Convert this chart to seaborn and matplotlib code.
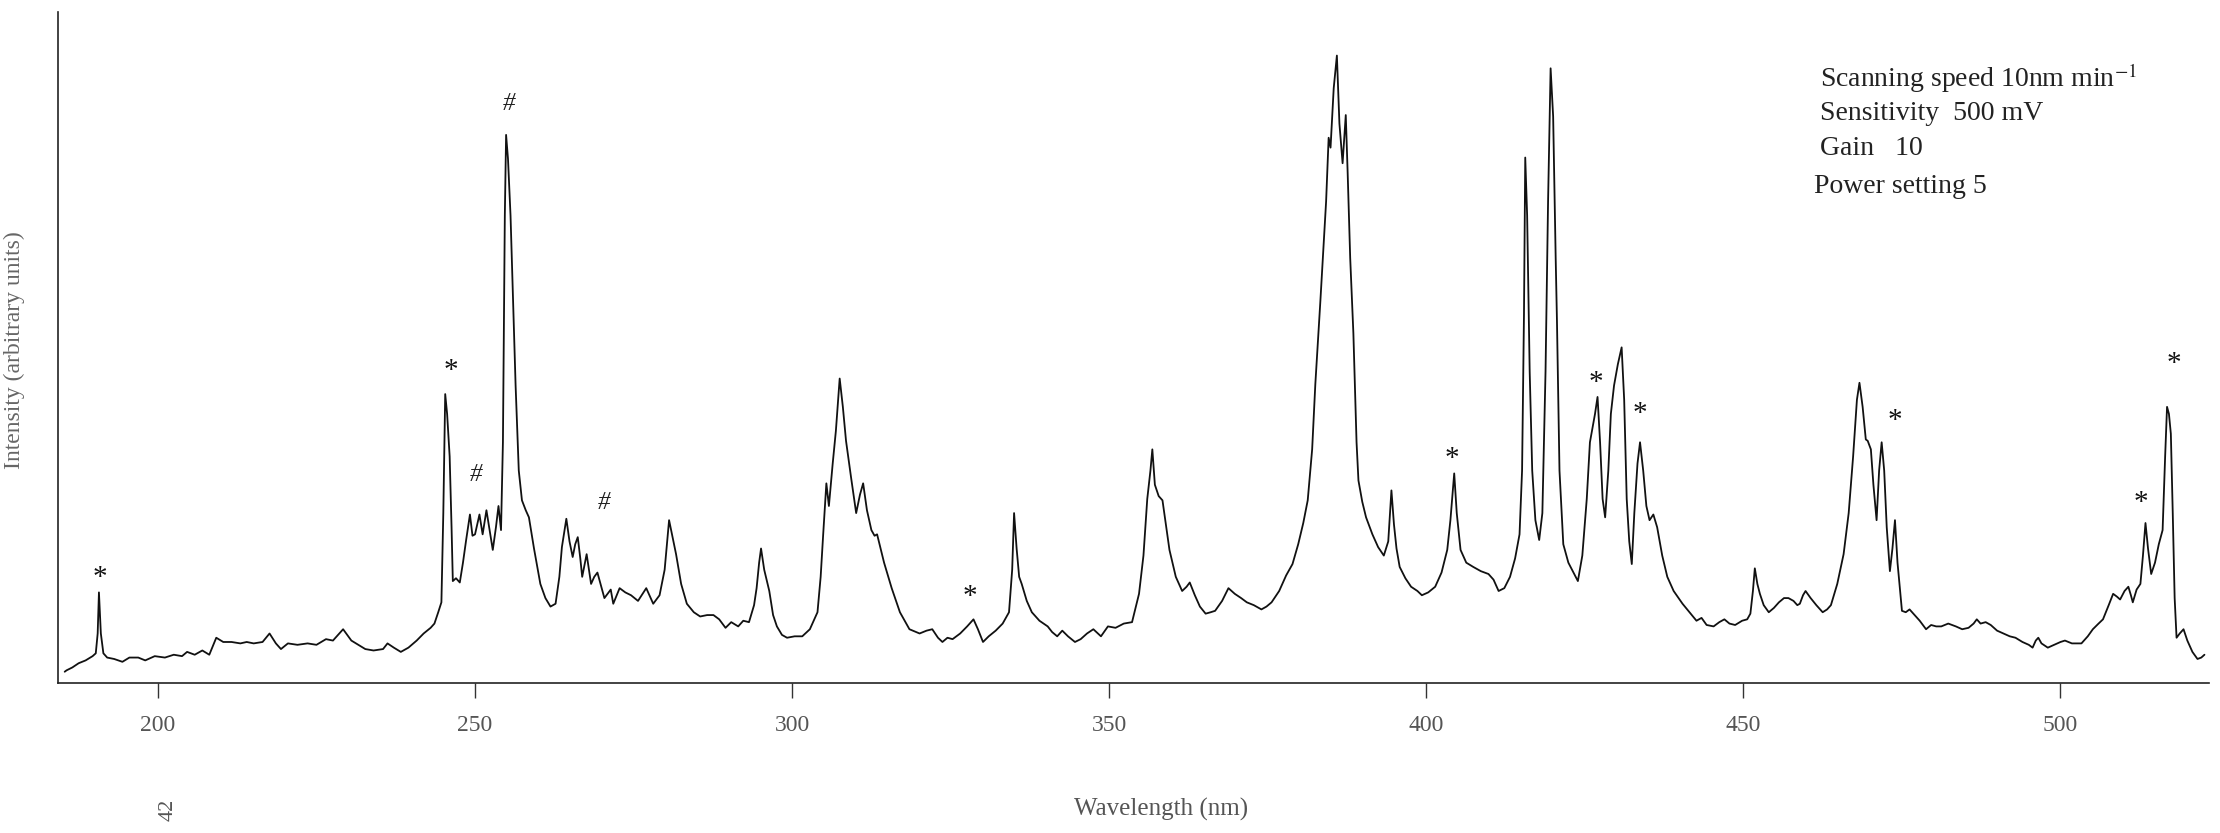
import matplotlib
matplotlib.use("Agg")
import matplotlib.pyplot as plt
import pandas as pd
import seaborn as sns

# =========================
# DATA (arbitrary intensity units)
# =========================
wavelength = [
    185.3, 185.6, 186.5, 187.5, 188.6, 189.7, 190.2, 190.5, 190.7, 191.0,
    191.4, 192.0, 193.1, 194.4, 195.5, 196.9, 198.0, 199.5, 201.1, 202.5,
    203.8, 204.6, 205.8, 207.0, 208.1, 209.2, 210.3, 211.6, 213.0, 214.0,
    215.1, 216.5, 217.6, 218.6, 219.4, 220.5, 222.0, 223.6, 225.0, 226.5,
    227.6, 229.2, 230.5, 231.6, 232.7, 234.0, 235.5, 236.2, 237.2, 238.3,
    239.5, 240.8, 241.9, 243.0, 243.6, 244.2, 244.7, 245.0, 245.3, 245.6,
    246.0, 246.3, 246.5, 247.0, 247.6, 248.1, 248.6, 249.2, 249.6, 250.0,
    250.4, 250.7, 251.2, 251.8, 252.3, 252.8, 253.3, 253.7, 254.1, 254.4,
    254.7, 254.9, 255.2, 255.6, 256.0, 256.4, 256.9, 257.4, 258.0, 258.5,
    259.3, 260.3, 261.1, 261.9, 262.7, 263.3, 263.7, 264.4, 264.9, 265.4,
    265.8, 266.2, 266.6, 266.9, 267.6, 268.3, 268.8, 269.3, 270.4, 271.4,
    271.8, 272.8, 273.7, 274.6, 275.7, 277.0, 278.1, 279.1, 279.9, 280.6,
    281.2, 281.7, 282.5, 283.4, 284.5, 285.5, 286.6, 287.6, 288.5, 289.5,
    290.4, 291.5, 292.3, 293.2, 294.0, 294.4, 294.8, 295.1, 295.6, 296.4,
    297.0, 297.6, 298.4, 299.2, 300.4, 301.6, 302.8, 304.0, 304.5, 304.9,
    305.4, 305.8, 306.4, 306.9, 307.5, 308.0, 308.5, 309.3, 310.1, 310.7,
    311.2, 311.8, 312.5, 313.0, 313.4, 314.5, 315.7, 317.0, 318.5, 320.1,
    321.2, 322.1, 323.0, 323.7, 324.5, 325.3, 326.5, 327.6, 328.6, 329.3,
    330.1, 331.0, 332.1, 333.2, 334.2, 334.7, 335.0, 335.4, 335.8, 336.2,
    337.0, 337.8, 339.0, 340.3, 341.0, 341.8, 342.6, 343.5, 344.6, 345.5,
    346.5, 347.5, 348.7, 349.8, 351.0, 352.3, 353.6, 354.7, 355.4, 356.0,
    356.5, 356.8, 357.2, 357.8, 358.4, 359.0, 359.5, 360.5, 361.5, 362.2,
    362.7, 363.5, 364.3, 365.2, 366.0, 366.7, 367.8, 368.8, 369.8, 370.8,
    371.7, 372.8, 374.0, 374.8, 375.6, 376.8, 377.9, 378.9, 379.8, 380.6,
    381.3, 382.0, 382.5, 383.3, 384.2, 384.6, 384.9, 385.4, 385.9, 386.3,
    386.8, 387.3, 387.6, 388.0, 388.5, 389.0, 389.3, 389.9, 390.5, 391.5,
    392.4, 393.3, 394.0, 394.5, 394.9, 395.3, 395.8, 396.7, 397.6, 398.6,
    399.3, 400.3, 401.4, 402.4, 403.3, 403.8, 404.4, 404.8, 405.4, 406.3,
    407.4, 408.6, 409.8, 410.6, 411.4, 412.3, 413.2, 414.0, 414.7, 415.1,
    415.4, 415.6, 415.9, 416.3, 416.7, 417.2, 417.8, 418.3, 418.8, 419.2,
    419.6, 420.0, 420.4, 420.6, 421.0, 421.6, 422.4, 423.2, 423.9, 424.6,
    425.3, 425.8, 426.2, 426.6, 427.0, 427.4, 427.8, 428.2, 428.7, 429.1,
    429.6, 430.2, 430.8, 431.2, 431.6, 432.0, 432.4, 432.8, 433.3, 433.7,
    434.2, 434.7, 435.2, 435.8, 436.4, 437.2, 438.0, 439.0, 440.4, 441.5,
    442.6, 443.4, 444.2, 445.3, 446.2, 447.0, 447.8, 448.7, 449.8, 450.6,
    451.1, 451.5, 451.8, 452.2, 452.6, 453.2, 454.0, 454.8, 455.6, 456.4,
    457.1, 457.9, 458.5, 458.9, 459.4, 459.8, 460.6, 461.5, 462.5, 463.2,
    463.8, 464.8, 465.8, 466.6, 467.3, 467.9, 468.3, 468.8, 469.3, 469.6,
    470.1, 470.5, 471.0, 471.4, 471.8, 472.2, 472.6, 473.1, 473.5, 473.9,
    474.3, 475.0, 475.6, 476.2, 477.0, 477.8, 478.8, 479.6, 480.4, 481.2,
    482.3, 483.5, 484.5, 485.5, 486.3, 486.8, 487.4, 488.2, 489.0, 490.0,
    491.0, 492.0, 492.9, 494.0, 495.0, 495.6, 496.1, 496.5, 497.0, 498.0,
    499.0, 500.0, 500.7, 501.8, 503.3, 504.3, 505.1, 506.0, 506.7, 507.6,
    508.3, 508.9, 509.4, 510.1, 510.7, 511.1, 511.4, 512.0, 512.6, 513.0,
    513.4, 513.8, 514.3, 514.9, 515.5, 516.1, 516.5, 516.8, 517.1, 517.4,
    517.7, 518.0, 518.3, 518.8, 519.4, 520.0, 520.8, 521.6, 522.2, 522.7,
]

intensity = [
    8, 9, 11, 14, 16, 19, 21, 35, 64, 35,
    21, 18, 17, 15, 18, 18, 16, 19, 18, 20,
    19, 22, 20, 23, 20, 32, 29, 29, 28, 29,
    28, 29, 35, 28, 24, 28, 27, 28, 27, 31,
    30, 38, 30, 27, 24, 23, 24, 28, 25, 22,
    25, 30, 35, 39, 42, 50, 57, 120, 204, 190,
    160, 110, 72, 74, 71, 85, 101, 119, 104, 105,
    113, 119, 105, 122, 108, 94, 110, 125, 108, 170,
    330, 387, 370, 330, 270, 210, 150, 129, 122, 117,
    95, 70, 60, 54, 56, 75, 96, 116, 100, 89,
    98, 103, 88, 75, 91, 70, 75, 78, 60, 66,
    56, 67, 64, 62, 58, 67, 56, 62, 80, 115,
    102, 91, 70, 56, 50, 47, 48, 48, 45, 39,
    43, 40, 44, 43, 55, 67, 85, 95, 80, 65,
    48, 40, 34, 32, 33, 33, 38, 50, 75, 105,
    141, 125, 155, 178, 215, 195, 171, 145, 120, 133,
    141, 122, 108, 104, 105, 85, 67, 50, 38, 35,
    37, 38, 32, 29, 32, 31, 35, 40, 45, 38,
    29, 33, 37, 42, 50, 80, 120, 95, 75, 70,
    58, 50, 44, 40, 36, 33, 37, 33, 29, 31,
    35, 38, 33, 40, 39, 42, 43, 63, 90, 130,
    150, 165, 140, 132, 129, 110, 94, 75, 65, 68,
    71, 62, 54, 49, 50, 51, 58, 67, 63, 60,
    57, 55, 52, 54, 57, 65, 76, 84, 98, 113,
    129, 165, 211, 270, 340, 385, 378, 420, 443, 395,
    367, 401, 360, 300, 247, 170, 143, 128, 117, 105,
    96, 90, 100, 136, 112, 95, 82, 74, 68, 65,
    62, 64, 68, 78, 94, 115, 148, 120, 94, 85,
    82, 79, 77, 73, 65, 67, 75, 88, 105, 150,
    260, 371, 330, 220, 150, 115, 101, 120, 220, 340,
    434, 400, 300, 256, 150, 98, 85, 78, 72, 90,
    130, 170, 180, 190, 202, 170, 130, 117, 150, 190,
    210, 225, 237, 200, 130, 100, 84, 120, 155, 170,
    150, 125, 115, 119, 110, 90, 75, 65, 56, 50,
    44, 46, 41, 40, 43, 45, 42, 41, 44, 45,
    49, 65, 81, 70, 63, 55, 50, 53, 57, 60,
    60, 58, 55, 56, 62, 65, 60, 55, 50, 52,
    55, 70, 91, 120, 160, 200, 212, 195, 172, 171,
    165, 140, 115, 150, 170, 150, 110, 79, 95, 115,
    85, 51, 50, 52, 48, 44, 38, 41, 40, 40,
    42, 40, 38, 39, 42, 45, 42, 43, 41, 37,
    35, 33, 32, 29, 27, 25, 30, 32, 28, 25,
    27, 29, 30, 28, 28, 33, 38, 42, 45, 55,
    63, 61, 59, 65, 68, 62, 57, 66, 70, 90,
    113, 95, 77, 85, 98, 108, 160, 195, 190, 176,
    120, 60, 32, 35, 38, 30, 22, 17, 18, 20,
]

# peak markers: "*" and "#" labels above the lines
star_wl = [190.8, 246.2, 328.1, 404.0, 426.8, 433.7, 473.9, 512.7, 517.9]
star_int = [74, 220, 61, 158, 212, 190, 185, 127, 225]
hash_wl = [250.2, 255.4, 270.3]
hash_int = [147, 409, 127]

x_ticks = [200, 250, 300, 350, 400, 450, 500]

settings_lines = [
    "Scanning speed 10nm min$^{-1}$",
    "Sensitivity  500 mV",
    "Gain   10",
    "Power setting 5",
]

# =========================
# STYLE
# =========================
sns.set_style("white")
plt.rcParams["font.family"] = ["Liberation Serif", "DejaVu Serif"]
plt.rcParams["mathtext.fontset"] = "stix"

df = pd.DataFrame({"Wavelength": wavelength, "Intensity": intensity})

fig = plt.figure(figsize=(22.2, 8.33), dpi=100)
ax = fig.add_axes([0.026, 0.18, 0.969, 0.806])

sns.lineplot(
    data=df,
    x="Wavelength",
    y="Intensity",
    ax=ax,
    color="#111111",
    linewidth=1.3,
    sort=False,
    estimator=None,
)

# peak labels
for wl, val in zip(star_wl, star_int):
    ax.text(wl, val, "*", ha="center", va="center", fontsize=21, color="#111111")
for wl, val in zip(hash_wl, hash_int):
    ax.text(wl, val, "#", ha="center", va="center", fontsize=18,
            style="italic", color="#222222")

ax.set_xlim(184.2, 523.4)
ax.set_ylim(0, 474)
ax.set_xticks(x_ticks)
ax.set_yticks([])
ax.set_xlabel("")
ax.set_ylabel("")

ax.tick_params(axis="x", direction="out", length=11, width=1.0, pad=12,
               labelsize=17, colors="#333333", labelcolor="#555555", bottom=True)

sns.despine(ax=ax)
for side in ["left", "bottom"]:
    ax.spines[side].set_color("#222222")
    ax.spines[side].set_linewidth(1.2)

# instrument settings block (top right)
settings_y = [0.906, 0.864, 0.822, 0.776]
settings_x = [0.820, 0.820, 0.820, 0.817]
for line, xx, yy in zip(settings_lines, settings_x, settings_y):
    fig.text(xx, yy, line, ha="left", va="center", fontsize=20, color="#222222")

# axis titles placed like the scan
fig.text(0.523, 0.028, "Wavelength (nm)", ha="center", va="center",
         fontsize=18, color="#555555")
fig.text(0.0065, 0.58, "Intensity (arbitrary units)", ha="center", va="center",
         rotation=90, fontsize=17, color="#666666")
fig.text(0.0757, 0.028, "42", ha="center", va="center", rotation=90,
         fontsize=16, color="#555555")

fig.savefig("out.png", dpi=100)
plt.close(fig)
